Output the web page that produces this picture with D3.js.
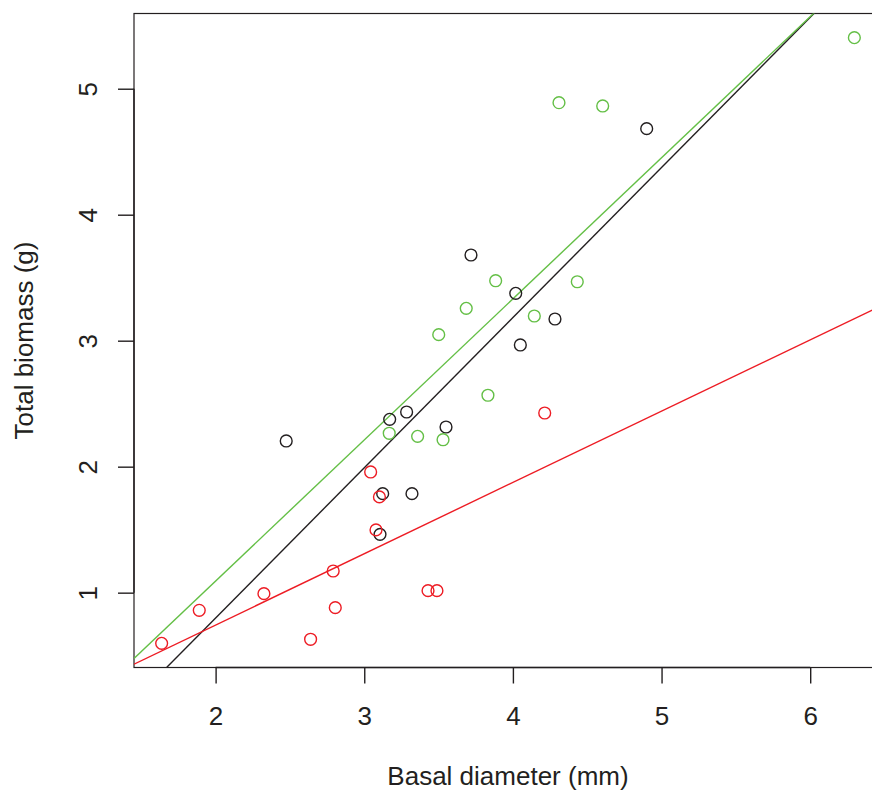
<!DOCTYPE html>
<html>
<head>
<meta charset="utf-8">
<script src="https://cdn.jsdelivr.net/npm/d3@7"></script>
<style>
  html, body { margin: 0; padding: 0; background: #ffffff; }
  svg { display: block; }
  text { font-family: "Liberation Sans", Arial, Helvetica, sans-serif; fill: #231f20; }
</style>
</head>
<body>
<svg id="chart" width="872" height="794"></svg>
<script>
// ---- data ----
const blackX = [2.475, 3.718, 4.900, 4.019, 4.050, 4.283, 3.171, 3.285, 3.550, 3.124, 3.321, 3.106];
const blackY = [2.204, 3.680, 4.683, 3.376, 2.966, 3.172, 2.376, 2.434, 2.315, 1.786, 1.786, 1.463];

const greenX = [4.310, 4.604, 6.297, 3.884, 4.433, 3.686, 3.501, 4.144, 3.832, 3.359, 3.530, 3.168];
const greenY = [4.889, 4.863, 5.405, 3.476, 3.468, 3.257, 3.048, 3.196, 2.567, 2.241, 2.214, 2.265];

const redX = [1.637, 1.890, 2.325, 2.639, 2.791, 2.805, 3.079, 3.102, 3.043, 3.429, 3.489, 4.214];
const redY = [0.598, 0.860, 0.992, 0.630, 1.172, 0.881, 1.498, 1.760, 1.958, 1.016, 1.016, 2.426];

// fitted lines: intercept, slope
const lineNames = ["black", "green", "red"];
const lineIntercepts = [-1.585, -1.148, -0.389];
const lineSlopes = [1.192, 1.120, 0.566];

const xTicks = [2, 3, 4, 5, 6];
const yTicks = [1, 2, 3, 4, 5];
const xLabel = "Basal diameter (mm)";
const yLabel = "Total biomass (g)";

(function () {
// ---- styling ----
const colors = { black: "#231f20", green: "#64bf46", red: "#ed1c24" };
const axisColor = "#231f20";
const fontSize = 26;

const svg = d3.select("#chart");
const pL = 134, pR = 882, pT = 13.5, pB = 667.5;

const x = d3.scaleLinear().domain([1.451, 6.483]).range([pL, pR]);
const y = d3.scaleLinear().domain([0.406, 5.597]).range([pB, pT]);

// clip for plot region
svg.append("defs").append("clipPath").attr("id", "plotclip")
  .append("rect").attr("x", pL).attr("y", pT)
  .attr("width", pR - pL).attr("height", pB - pT);

// box
svg.append("rect")
  .attr("x", pL).attr("y", pT)
  .attr("width", pR - pL).attr("height", pB - pT)
  .attr("fill", "none").attr("stroke", axisColor).attr("stroke-width", 1.2);

// x axis
const gx = svg.append("g")
  .attr("transform", `translate(0,${pB})`)
  .call(d3.axisBottom(x).tickValues(xTicks).tickSize(16).tickFormat(d3.format("d")));
gx.select(".domain").attr("d", `M${x(xTicks[0])},0H${x(xTicks[xTicks.length-1])}`)
  .attr("stroke", axisColor).attr("stroke-width", 1.4);
gx.selectAll(".tick line").attr("stroke", axisColor).attr("stroke-width", 1.4);
gx.selectAll(".tick text")
  .attr("y", 57).attr("dy", 0)
  .attr("font-size", fontSize)
  .style("font-family", "'Liberation Sans', Arial, sans-serif")
  .attr("fill", axisColor);

// y axis
const gy = svg.append("g")
  .attr("transform", `translate(${pL},0)`)
  .call(d3.axisLeft(y).tickValues(yTicks).tickSize(16).tickFormat(d3.format("d")));
gy.select(".domain").attr("d", `M0,${y(yTicks[0])}V${y(yTicks[yTicks.length-1])}`)
  .attr("stroke", axisColor).attr("stroke-width", 1.4);
gy.selectAll(".tick line").attr("stroke", axisColor).attr("stroke-width", 1.4);
gy.selectAll(".tick text")
  .attr("x", 0).attr("y", 0).attr("dy", 0)
  .attr("transform", "translate(-37,0) rotate(-90)")
  .attr("text-anchor", "middle")
  .attr("font-size", fontSize)
  .style("font-family", "'Liberation Sans', Arial, sans-serif")
  .attr("fill", axisColor);

// axis titles
svg.append("text")
  .attr("x", (pL + pR) / 2).attr("y", 785)
  .attr("text-anchor", "middle")
  .attr("font-size", fontSize)
  .text(xLabel);

svg.append("text")
  .attr("transform", `translate(33,${(pT + pB) / 2}) rotate(-90)`)
  .attr("text-anchor", "middle")
  .attr("font-size", fontSize)
  .text(yLabel);

// regression lines
const plot = svg.append("g").attr("clip-path", "url(#plotclip)");
const [d0, d1] = x.domain();
lineNames.forEach((name, i) => {
  const a = lineIntercepts[i], b = lineSlopes[i];
  plot.append("line")
    .attr("x1", x(d0)).attr("y1", y(a + b * d0))
    .attr("x2", x(d1)).attr("y2", y(a + b * d1))
    .attr("stroke", colors[name]).attr("stroke-width", 1.4);
});

// points
const series = [
  { name: "black", xs: blackX, ys: blackY },
  { name: "green", xs: greenX, ys: greenY },
  { name: "red", xs: redX, ys: redY }
];
series.forEach(s => {
  plot.append("g").selectAll("circle")
    .data(s.xs.map((v, i) => [v, s.ys[i]]))
    .join("circle")
    .attr("cx", d => x(d[0]))
    .attr("cy", d => y(d[1]))
    .attr("r", 5.9)
    .attr("fill", "none")
    .attr("stroke", colors[s.name])
    .attr("stroke-width", 1.4);
});
})();
</script>
</body>
</html>
